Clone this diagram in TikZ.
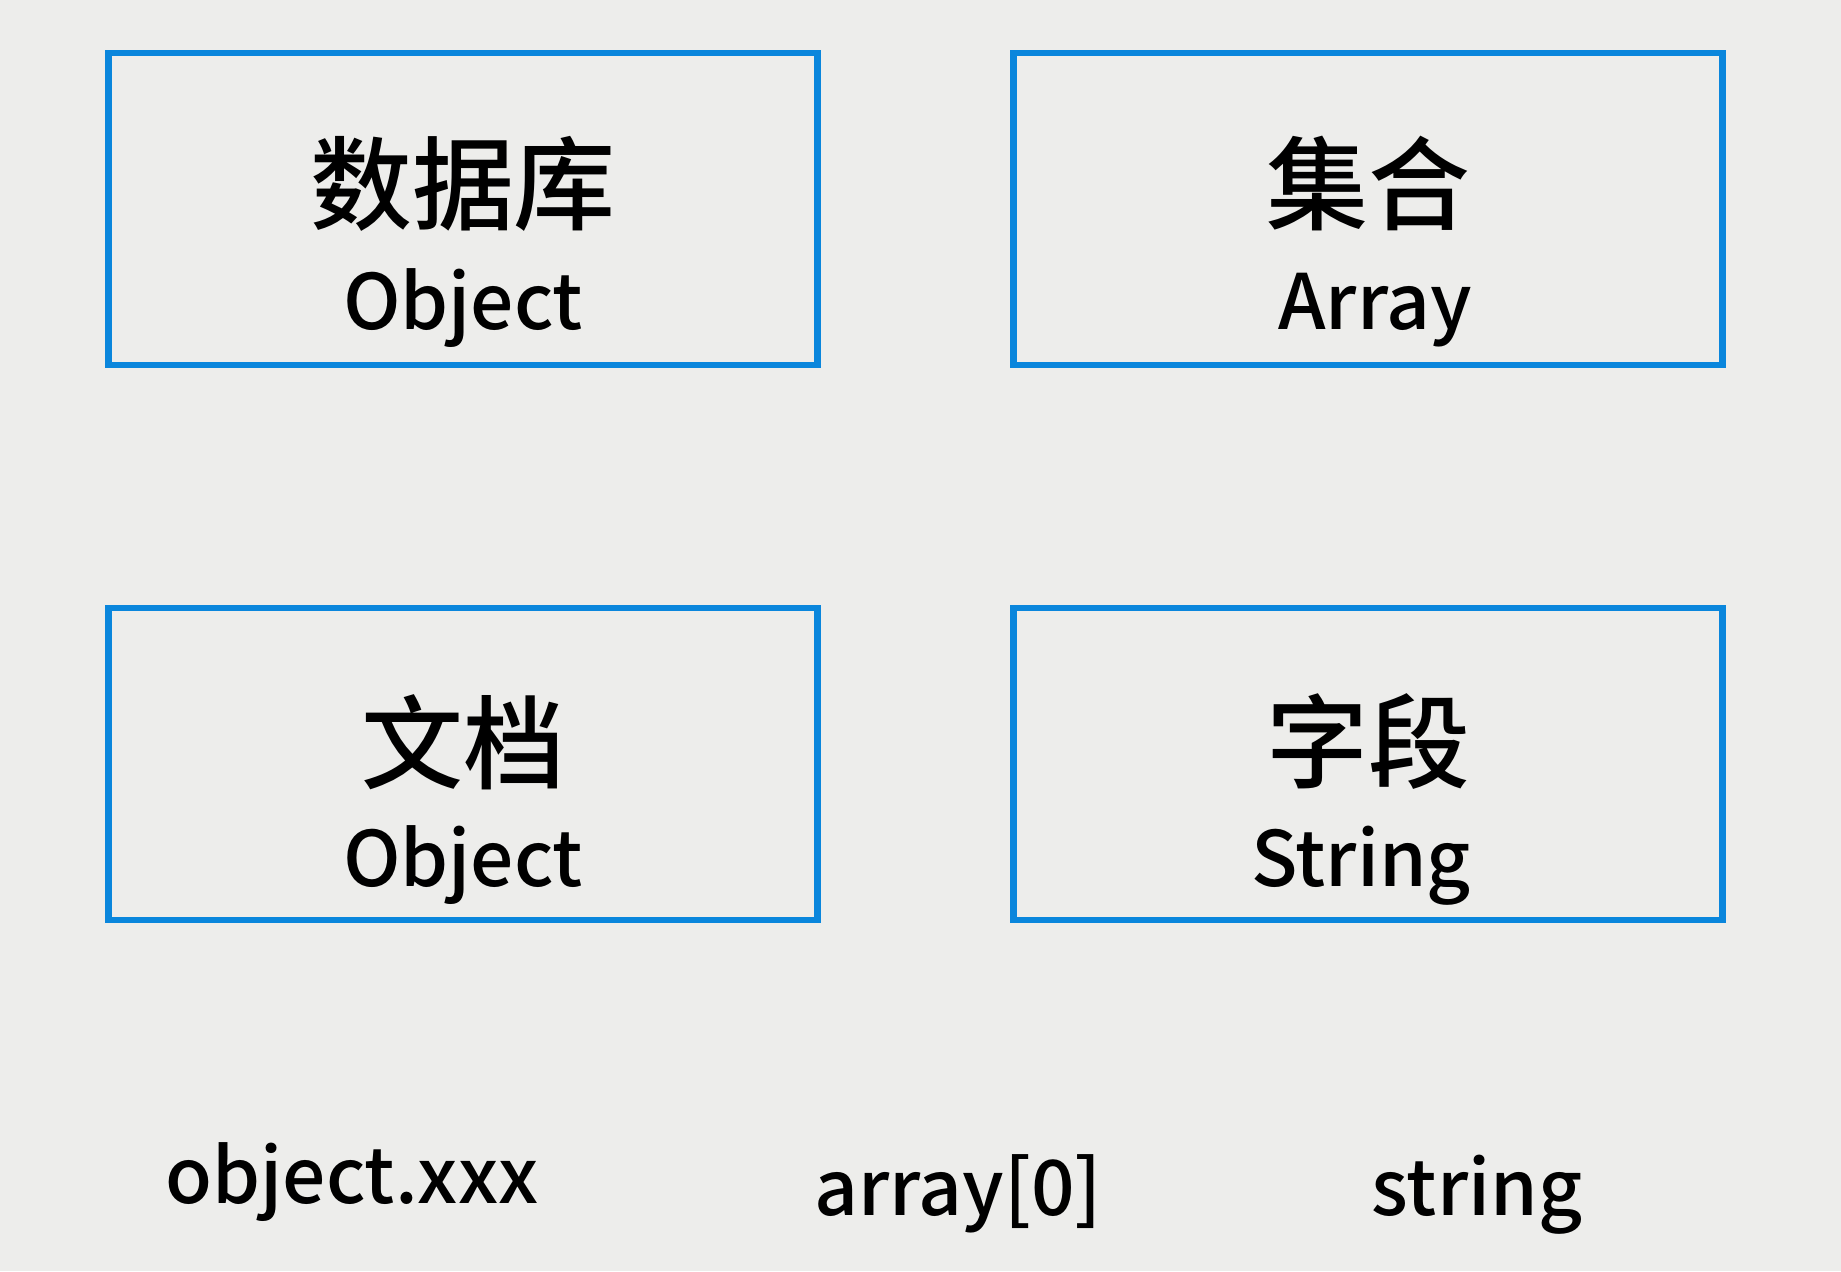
\documentclass[tikz,border=0pt]{standalone}
\usepackage{fontspec}
\setmainfont{Noto Sans CJK SC Medium}
\usepackage{tikz}
\usetikzlibrary{positioning}
\definecolor{bgcol}{HTML}{EDEDEB}
\definecolor{boxblue}{HTML}{0A86DC}
\tikzset{
        box/.style={draw=boxblue, line width=3.6pt, minimum width=709*0.02cm,
                    minimum height=312*0.02cm, inner sep=0pt},
        zh/.style={font=\fontsize{58}{60}\selectfont, inner sep=0pt},
        en/.style={font=\fontsize{43.5}{48}\selectfont, inner sep=0pt, anchor=base},
        plain/.style={en},
 }
\begin{document}
\begin{tikzpicture}[x=0.02cm, y=-0.02cm]
    \fill[bgcol] (0,0) rectangle (1841,1271);
    \useasboundingbox (0,0) rectangle (1841,1271);

    \node[box] (db) at (463,209) {};
    \node[box] (coll) at (1368,209) {};
    \node[box] (doc) at (463,764) {};
    \node[box] (field) at (1368,764) {};

    \node[zh] (dbzh) at (463,184) {数据库};
    \node[en] (dben) at (463,329) {Object};
    \node[zh] (collzh) at (1368,184) {集合};
    \node[en] (collen) at (1375,329) {Array};
    \node[zh] (doczh) at (463,742) {文档};
    \node[en] (docen) at (463,886) {Object};
    \node[zh] (fieldzh) at (1368,742) {字段};
    \node[en] (fielden) at (1361,886) {String};

    \node[plain] (objx) at (352,1203) {object.xxx};
    \node[plain] (arr) at (958,1215) {array[0]};
    \node[plain] (str) at (1477,1215) {string};
\end{tikzpicture}
\end{document}
